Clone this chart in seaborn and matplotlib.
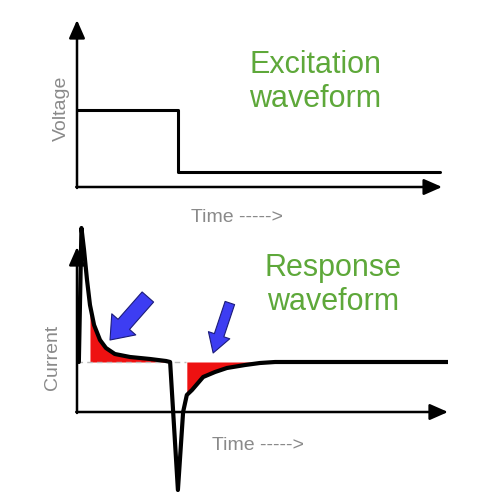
import numpy as np
import pandas as pd
import matplotlib
matplotlib.use("Agg")
import matplotlib.pyplot as plt
import seaborn as sns

sns.set_style("white")
plt.rcParams['font.family'] = ['Liberation Sans', 'DejaVu Sans']

# excitation waveform (voltage step)
v_time = [0.0, 2.72, 2.72, 9.78]
v_level = [1.54, 1.54, 0.30, 0.30]

# response waveform (current)
i_time = [0.05, 0.12, 0.19, 0.27, 0.35, 0.46, 0.62, 0.78, 1.02, 1.43, 1.97, 2.40, 2.51,
          2.72, 2.86, 2.96, 3.10, 3.40, 3.72, 4.04, 4.53, 4.93, 5.34, 10.19]
i_value = [1.0, 3.68, 3.24, 2.64, 2.14, 1.74, 1.44, 1.28, 1.16, 1.10, 1.06, 1.02, 1.0,
           -1.56, 0.0, 0.34, 0.44, 0.70, 0.80, 0.88, 0.94, 0.98, 1.0, 1.0]
baseline = 1.0

green = "#5ea83a"
gray = "#8a8a8a"

fig = plt.figure(figsize=(5, 5), dpi=100)
ax1 = fig.add_axes([0.154, 0.606, 0.742, 0.37])
ax2 = fig.add_axes([0.154, 0.006, 0.742, 0.545])

for ax in (ax1, ax2):
    ax.set_xlim(0, 10)
    ax.axis("off")

ax1.set_ylim(-0.2, 3.5)
ax2.set_ylim(-1.7, 3.75)

# axis arrows
arrow_kw = dict(arrowstyle="-|>,head_length=0.5,head_width=0.22", lw=1.8, color="black",
                mutation_scale=22, shrinkA=0, shrinkB=0)
ax1.annotate("", xy=(0, 3.34), xytext=(0, -0.02), arrowprops=arrow_kw)
ax1.annotate("", xy=(9.84, 0), xytext=(-0.02, 0), arrowprops=arrow_kw)
ax2.annotate("", xy=(0, 3.3), xytext=(0, -0.02), arrowprops=arrow_kw)
ax2.annotate("", xy=(10.0, 0), xytext=(-0.02, 0), arrowprops=arrow_kw)

# top panel
sns.lineplot(x=v_time, y=v_level, ax=ax1, color="black", lw=2.2, sort=False, estimator=None)
ax1.text(-0.42, 1.58, "Voltage", rotation=90, ha="center", va="center", color=gray, fontsize=14)
ax1.text(4.31, -0.6, "Time ----->", ha="center", va="center", color=gray, fontsize=14)
ax1.text(6.42, 2.1, "Excitation\nwaveform", ha="center", va="center", color=green,
         fontsize=22, multialignment="center")

# bottom panel
df = pd.DataFrame({"t": i_time, "i": i_value})
t = df["t"].to_numpy()
cur = df["i"].to_numpy()
ax2.fill_between(t, cur, baseline, where=(t >= 0.35) & (t <= 2.40), color="#ee1111", lw=0)
ax2.fill_between(t, cur, baseline, where=(t >= 2.96) & (t <= 4.93), color="#ee1111", lw=0)
ax2.hlines(baseline, 0, 2.95, colors="#bbbbbb", lw=1, linestyles=(0, (4, 3)))
sns.lineplot(data=df, x="t", y="i", ax=ax2, color="black", lw=3, sort=False, estimator=None)

ax2.text(-0.67, 1.1, "Current", rotation=90, ha="center", va="center", color=gray, fontsize=14)
ax2.text(4.88, -0.66, "Time ----->", ha="center", va="center", color=gray, fontsize=14)
ax2.text(6.9, 2.54, "Response\nwaveform", ha="center", va="center", color=green,
         fontsize=22, multialignment="center")

# blue pointer arrows
ax2.annotate("", xy=(0.89, 1.44), xytext=(1.91, 2.3),
             arrowprops=dict(arrowstyle="simple,head_length=0.75,head_width=1.15,tail_width=0.55",
                             fc="#3d3df2", ec="#1c1c7a", lw=0.8, mutation_scale=20,
                             shrinkA=0, shrinkB=0))
ax2.annotate("", xy=(3.67, 1.18), xytext=(4.12, 2.18),
             arrowprops=dict(arrowstyle="simple,head_length=0.75,head_width=0.9,tail_width=0.4",
                             fc="#3d3df2", ec="#1c1c7a", lw=0.8, mutation_scale=18,
                             shrinkA=0, shrinkB=0))

fig.savefig("out.png", dpi=100)
